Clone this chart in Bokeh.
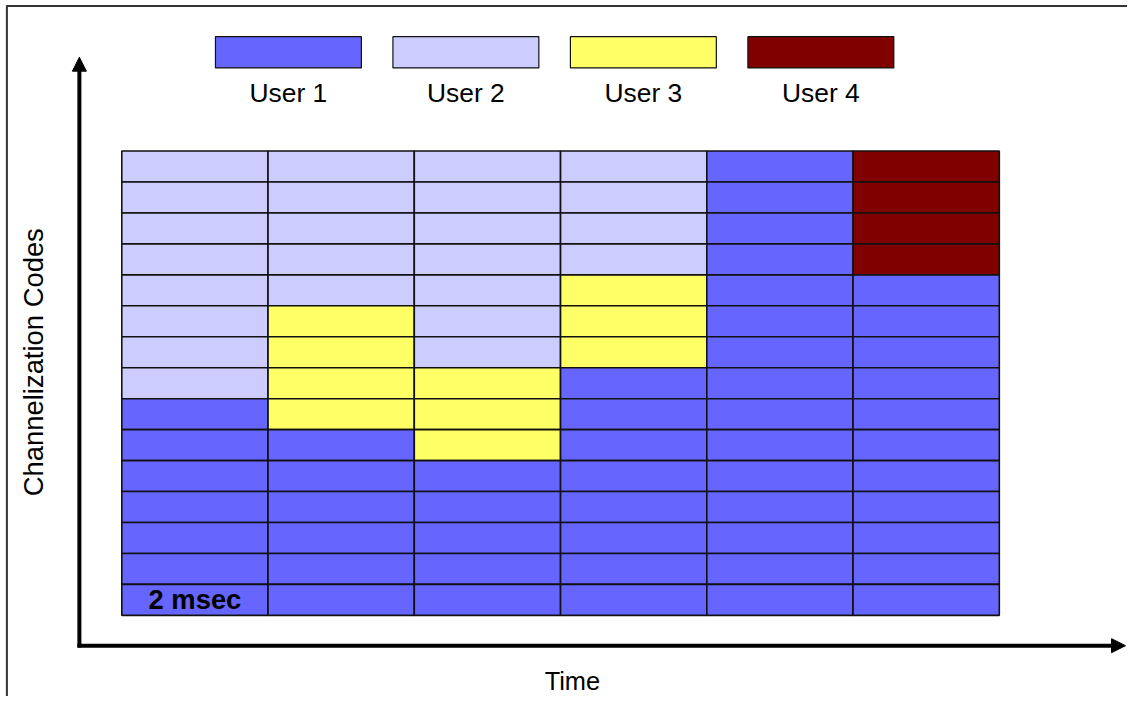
from math import pi

from bokeh.plotting import figure
from bokeh.models import Range1d, Arrow, NormalHead, Label, ColumnDataSource
from bokeh.embed import file_html
from bokeh.resources import INLINE

# ---------------- data ----------------
users = ["User 1", "User 2", "User 3", "User 4"]
user_colors = ["#6666FF", "#CCCCFF", "#FFFF66", "#800000"]

n_codes = 15            # channelization codes (rows)
slot_label = "2 msec"   # length of one time slot
x_title = "Time"
y_title = "Channelization Codes"

# user number (1-4) occupying each code, listed from the top code down, per 2 msec slot
slot_0 = [2, 2, 2, 2, 2, 2, 2, 2, 1, 1, 1, 1, 1, 1, 1]
slot_1 = [2, 2, 2, 2, 2, 3, 3, 3, 3, 1, 1, 1, 1, 1, 1]
slot_2 = [2, 2, 2, 2, 2, 2, 2, 3, 3, 3, 1, 1, 1, 1, 1]
slot_3 = [2, 2, 2, 2, 3, 3, 3, 1, 1, 1, 1, 1, 1, 1, 1]
slot_4 = [1, 1, 1, 1, 1, 1, 1, 1, 1, 1, 1, 1, 1, 1, 1]
slot_5 = [4, 4, 4, 4, 1, 1, 1, 1, 1, 1, 1, 1, 1, 1, 1]
slots = [slot_0, slot_1, slot_2, slot_3, slot_4, slot_5]

# ---------------- layout (reference picture geometry, scaled to fit) ----------------
W, H = 1127, 696
REF_W, REF_H = 1143, 712
S = min(W / REF_W, H / REF_H)
GX0, GX1 = 123, 1013         # grid left/right (reference px)
GY0, GY1 = 154, 629          # grid top/bottom (reference px)
col_w = (GX1 - GX0) / len(slots)
row_h = (GY1 - GY0) / n_codes


def X(px):
    return (px - GX0) / col_w


def Y(py):
    return (GY1 - py) / row_h


def fs(px):
    return f"{px * S:.1f}px"


p = figure(width=W, height=H, output_backend="svg", toolbar_location=None,
           x_range=Range1d(X(0), X(REF_W)), y_range=Range1d(Y(REF_H), Y(0)),
           min_border=0, min_border_left=0, min_border_right=0,
           min_border_top=0, min_border_bottom=0)
p.axis.visible = False
p.grid.visible = False
p.outline_line_color = None
p.background_fill_color = "white"
p.border_fill_color = "white"

# ---------------- cells ----------------
left, right, bottom, top, color = [], [], [], [], []
for s, col in enumerate(slots):
    for k, u in enumerate(col):
        code = n_codes - 1 - k
        left.append(s)
        right.append(s + 1)
        bottom.append(code)
        top.append(code + 1)
        color.append(user_colors[u - 1])
src = ColumnDataSource(dict(left=left, right=right, bottom=bottom, top=top, color=color))
p.quad(left="left", right="right", bottom="bottom", top="top", fill_color="color",
       line_color="#111111", line_width=1.6, source=src)

# ---------------- legend ----------------
leg_l, leg_r, leg_b, leg_t = [], [], [], []
for i, u in enumerate(users):
    lx = 218 + i * 180
    leg_l.append(X(lx))
    leg_r.append(X(lx + 148))
    leg_t.append(Y(37))
    leg_b.append(Y(69))
    p.add_layout(Label(x=X(lx + 74), y=Y(95), text=u, text_align="center",
                       text_baseline="middle", text_font="Liberation Sans",
                       text_font_size=fs(27), text_color="black"))
p.quad(left=leg_l, right=leg_r, bottom=leg_b, top=leg_t, fill_color=user_colors,
       line_color="#111111", line_width=1.2)

# ---------------- slot label ----------------
p.add_layout(Label(x=0.5, y=0.5, text=slot_label, text_align="center",
                   text_baseline="middle", text_font="Liberation Sans",
                   text_font_style="bold", text_font_size=fs(28), text_color="black"))

# ---------------- axes arrows ----------------
AX, AY = 80, 660
p.segment(x0=[X(AX), X(AX - 2)], y0=[Y(AY + 2), Y(AY)],
          x1=[X(AX), X(1128)], y1=[Y(71), Y(AY)],
          line_color="black", line_width=4)
p.add_layout(Arrow(end=NormalHead(size=14, fill_color="black", line_color="black"),
                   x_start=X(AX), y_start=Y(75), x_end=X(AX), y_end=Y(58),
                   line_alpha=0))
p.add_layout(Arrow(end=NormalHead(size=14, fill_color="black", line_color="black"),
                   x_start=X(1120), y_start=Y(AY), x_end=X(1141), y_end=Y(AY),
                   line_alpha=0))

# ---------------- titles ----------------
p.add_layout(Label(x=X(33), y=Y(370), text=y_title, angle=pi / 2, text_align="center",
                   text_baseline="middle", text_font="Liberation Sans",
                   text_font_size=fs(28), text_color="black"))
p.add_layout(Label(x=X(580), y=Y(696), text=x_title, text_align="center",
                   text_baseline="middle", text_font="Liberation Sans",
                   text_font_size=fs(26), text_color="black"))

# ---------------- outer frame (top and left edges) ----------------
p.segment(x0=[X(6), X(6.5)], y0=[Y(5.5), Y(5)], x1=[X(REF_W), X(6.5)], y1=[Y(5.5), Y(REF_H)],
          line_color="#333333", line_width=2)

open("out.html", "w").write(file_html(p, INLINE))
